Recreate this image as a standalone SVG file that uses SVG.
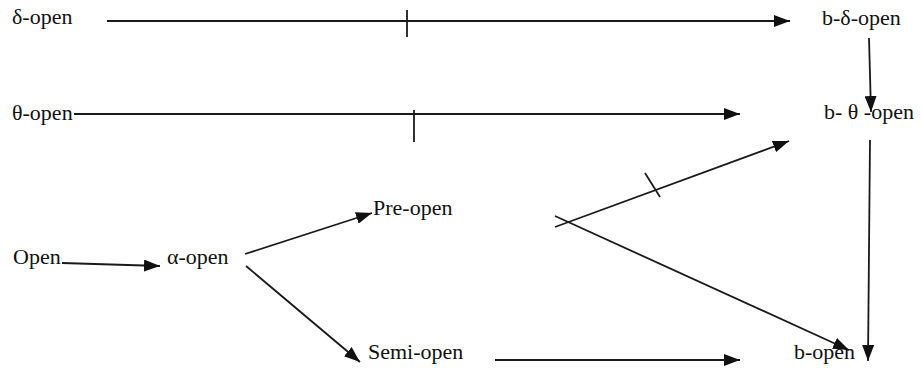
<svg xmlns="http://www.w3.org/2000/svg" width="922" height="370" viewBox="0 0 922 370">
  <style>
    .lbl { font-family: "Liberation Serif", "Times New Roman", serif; font-size: 22px; fill: #111; }
    .edge { stroke: #1a1a1a; stroke-width: 1.8; fill: none; }
    .arr { marker-end: url(#head); }
  </style>
  <defs>
    <marker id="head" viewBox="0 0 16 12" refX="16" refY="6" markerWidth="16" markerHeight="12" markerUnits="userSpaceOnUse" orient="auto">
      <path d="M0,0 L16,6 L0,12 Z" fill="#111"/>
    </marker>
  </defs>
  <rect width="922" height="370" fill="#fff"/>

  <g id="connectors">
    <!-- delta-open to b-delta-open, with non-implication tick -->
    <line class="edge arr" x1="107" y1="21" x2="790" y2="21"/>
    <line class="edge" x1="407" y1="10" x2="407" y2="37"/>
    <!-- theta-open to b-theta-open, with tick -->
    <line class="edge arr" x1="74" y1="114" x2="740" y2="114"/>
    <line class="edge" x1="414" y1="110" x2="414" y2="142"/>
    <!-- b-delta-open down to b-theta-open -->
    <line class="edge arr" x1="869" y1="38" x2="871" y2="112"/>
    <!-- b-theta-open down to b-open -->
    <line class="edge arr" x1="870" y1="140" x2="868" y2="361"/>
    <!-- open to alpha-open -->
    <line class="edge arr" x1="62" y1="263" x2="160" y2="266"/>
    <!-- alpha-open to pre-open and semi-open -->
    <line class="edge arr" x1="245" y1="254" x2="372" y2="213"/>
    <line class="edge arr" x1="246" y1="266" x2="360" y2="362"/>
    <!-- pre-open to b-theta-open (ticked) and to b-open -->
    <line class="edge arr" x1="555" y1="227" x2="789" y2="141"/>
    <line class="edge" x1="645" y1="173" x2="660" y2="197"/>
    <line class="edge arr" x1="555" y1="216" x2="849" y2="350"/>
    <!-- semi-open to b-open -->
    <line class="edge arr" x1="495" y1="360" x2="740" y2="360"/>
  </g>

  <g id="delta-open"><text class="lbl" x="12" y="24">δ-open</text></g>
  <g id="theta-open"><text class="lbl" x="12" y="120">θ-open</text></g>
  <g id="open"><text class="lbl" x="13" y="264">Open</text></g>
  <g id="alpha-open"><text class="lbl" x="167" y="264">α-open</text></g>
  <g id="pre-open"><text class="lbl" x="373" y="215">Pre-open</text></g>
  <g id="semi-open"><text class="lbl" x="368" y="359">Semi-open</text></g>
  <g id="b-delta-open"><text class="lbl" x="822" y="25">b-δ-open</text></g>
  <g id="b-theta-open"><text class="lbl" x="824" y="119">b- θ -open</text></g>
  <g id="b-open"><text class="lbl" x="794" y="359">b-open</text></g>
</svg>
